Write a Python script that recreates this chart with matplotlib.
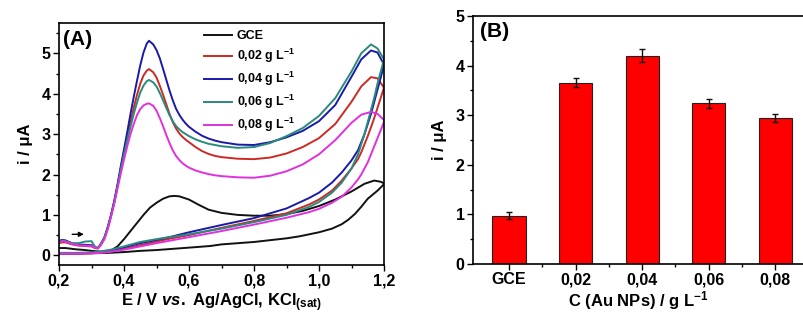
import matplotlib
matplotlib.use("Agg")
import matplotlib.pyplot as plt
from matplotlib.ticker import MultipleLocator, FixedLocator, FuncFormatter

plt.rcParams['font.family'] = ['Liberation Sans', 'DejaVu Sans']
plt.rcParams['font.weight'] = 'bold'
plt.rcParams['mathtext.fontset'] = 'custom'
plt.rcParams['mathtext.rm'] = 'Liberation Sans:bold'
plt.rcParams['mathtext.bf'] = 'Liberation Sans:bold'
plt.rcParams['mathtext.it'] = 'Liberation Sans:italic:bold'

# ---------------- Panel A data (cyclic voltammograms) ----------------
E_fwd = [0.20, 0.21, 0.22, 0.24, 0.26, 0.28, 0.30, 0.31, 0.32, 0.33, 0.34, 0.35, 0.36, 0.37,
         0.38, 0.39, 0.40, 0.41, 0.42, 0.43, 0.44, 0.45, 0.46, 0.47, 0.477, 0.49, 0.50, 0.51,
         0.52, 0.53, 0.54, 0.55, 0.56, 0.57, 0.58, 0.59, 0.60, 0.62, 0.64, 0.66, 0.68, 0.70,
         0.75, 0.80, 0.85, 0.90, 0.95, 1.00, 1.05, 1.10, 1.13, 1.16, 1.18, 1.20]
E_rev = [1.20, 1.19, 1.18, 1.17, 1.16, 1.15, 1.14, 1.13, 1.12, 1.10, 1.07, 1.04, 1.00, 0.97,
         0.90, 0.80, 0.70, 0.60, 0.54, 0.50, 0.45, 0.40, 0.36, 0.33, 0.30, 0.25, 0.20]

i_002_fwd = [0.30, 0.32, 0.32, 0.27, 0.24, 0.23, 0.22, 0.18, 0.17, 0.28, 0.43, 0.68, 0.98, 1.32,
             1.72, 2.15, 2.55, 2.93, 3.30, 3.65, 3.97, 4.25, 4.45, 4.57, 4.61, 4.53, 4.40, 4.20,
             3.98, 3.74, 3.50, 3.30, 3.14, 3.02, 2.93, 2.86, 2.80, 2.68, 2.58, 2.51, 2.46, 2.43,
             2.39, 2.38, 2.42, 2.52, 2.68, 2.90, 3.25, 3.80, 4.18, 4.41, 4.38, 4.15]
i_004_fwd = [0.36, 0.38, 0.37, 0.30, 0.27, 0.26, 0.25, 0.20, 0.18, 0.30, 0.45, 0.70, 1.00, 1.35,
             1.75, 2.20, 2.62, 3.05, 3.50, 3.92, 4.32, 4.70, 5.02, 5.24, 5.31, 5.22, 5.08, 4.88,
             4.62, 4.35, 4.08, 3.84, 3.63, 3.48, 3.36, 3.26, 3.18, 3.06, 2.96, 2.89, 2.84, 2.80,
             2.74, 2.73, 2.80, 2.92, 3.08, 3.32, 3.72, 4.42, 4.85, 5.07, 5.02, 4.72]
i_006_fwd = [0.33, 0.36, 0.35, 0.30, 0.30, 0.34, 0.35, 0.22, 0.18, 0.29, 0.44, 0.68, 0.97, 1.30,
             1.70, 2.12, 2.50, 2.85, 3.18, 3.50, 3.78, 4.03, 4.20, 4.31, 4.34, 4.28, 4.18, 4.02,
             3.84, 3.65, 3.47, 3.32, 3.20, 3.12, 3.05, 3.00, 2.95, 2.87, 2.81, 2.76, 2.73, 2.70,
             2.66, 2.68, 2.78, 2.95, 3.15, 3.45, 3.89, 4.55, 5.00, 5.22, 5.12, 4.85]
i_008_fwd = [0.32, 0.35, 0.34, 0.28, 0.25, 0.24, 0.23, 0.19, 0.17, 0.27, 0.40, 0.64, 0.95, 1.28,
             1.65, 2.02, 2.37, 2.70, 3.00, 3.25, 3.47, 3.62, 3.71, 3.75, 3.76, 3.70, 3.58, 3.40,
             3.20, 2.98, 2.78, 2.60, 2.46, 2.36, 2.28, 2.22, 2.17, 2.10, 2.05, 2.01, 1.98, 1.96,
             1.93, 1.92, 1.97, 2.08, 2.25, 2.50, 2.85, 3.28, 3.48, 3.55, 3.50, 3.35]

i_002_rev = [4.15, 3.90, 3.65, 3.40, 3.17, 2.95, 2.75, 2.55, 2.38, 2.15, 1.85, 1.60, 1.38, 1.26,
             1.04, 0.85, 0.68, 0.50, 0.41, 0.34, 0.25, 0.16, 0.10, 0.07, 0.05, 0.04, 0.04]
i_004_rev = [4.72, 4.40, 4.10, 3.80, 3.50, 3.25, 3.00, 2.80, 2.60, 2.35, 2.05, 1.80, 1.55, 1.42,
             1.16, 0.92, 0.75, 0.57, 0.45, 0.38, 0.30, 0.20, 0.12, 0.08, 0.06, 0.05, 0.05]
i_006_rev = [4.85, 4.55, 4.25, 3.90, 3.60, 3.30, 3.00, 2.75, 2.50, 2.15, 1.80, 1.55, 1.32, 1.20,
             1.00, 0.82, 0.66, 0.52, 0.45, 0.40, 0.33, 0.22, 0.14, 0.10, 0.07, 0.06, 0.06]
i_008_rev = [3.30, 3.10, 2.90, 2.70, 2.50, 2.30, 2.15, 2.00, 1.88, 1.68, 1.45, 1.30, 1.15, 1.07,
             0.93, 0.76, 0.60, 0.45, 0.36, 0.30, 0.22, 0.14, 0.09, 0.06, 0.05, 0.04, 0.04]

E_gce_fwd = [0.20, 0.22, 0.25, 0.28, 0.30, 0.33, 0.36, 0.38, 0.40, 0.42, 0.44, 0.46, 0.48, 0.50,
             0.52, 0.54, 0.555, 0.57, 0.60, 0.63, 0.66, 0.70, 0.75, 0.80, 0.85, 0.90, 0.95, 1.00,
             1.05, 1.10, 1.14, 1.17, 1.19, 1.20]
i_gce_fwd = [0.18, 0.18, 0.15, 0.13, 0.11, 0.09, 0.12, 0.22, 0.40, 0.60, 0.80, 1.00, 1.18, 1.30,
             1.40, 1.46, 1.47, 1.46, 1.38, 1.25, 1.13, 1.05, 1.00, 0.98, 0.98, 1.02, 1.10, 1.22,
             1.38, 1.58, 1.77, 1.85, 1.82, 1.78]
E_gce_rev = [1.20, 1.18, 1.15, 1.13, 1.11, 1.09, 1.07, 1.04, 1.00, 0.94, 0.90, 0.80, 0.70, 0.665,
             0.60, 0.55, 0.50, 0.45, 0.40, 0.35, 0.30, 0.25, 0.20]
i_gce_rev = [1.76, 1.60, 1.40, 1.20, 1.02, 0.88, 0.77, 0.66, 0.57, 0.47, 0.42, 0.33, 0.27, 0.23,
             0.19, 0.16, 0.13, 0.11, 0.08, 0.06, 0.05, 0.04, 0.04]

legend_labels = ["GCE", "0,02 g L$^{-1}$", "0,04 g L$^{-1}$", "0,06 g L$^{-1}$", "0,08 g L$^{-1}$"]
line_colors = ["#111111", "#cc2a24", "#1a1aa8", "#2a8a7c", "#e030e0"]

# ---------------- Panel B data (bar chart) ----------------
bar_labels = ["GCE", "0,02", "0,04", "0,06", "0,08"]
bar_values = [0.97, 3.65, 4.20, 3.24, 2.95]
bar_errors = [0.07, 0.09, 0.13, 0.09, 0.08]

fig = plt.figure(figsize=(8.04, 3.2), dpi=100)
axA = fig.add_axes([59 / 804, 1 - 265 / 320, 325 / 804, 242 / 320])
axB = fig.add_axes([473 / 804, 1 - 264 / 320, 331 / 804, 248 / 320])

series = [
    (E_gce_fwd + E_gce_rev, i_gce_fwd + i_gce_rev),
    (E_fwd + E_rev, i_002_fwd + i_002_rev),
    (E_fwd + E_rev, i_004_fwd + i_004_rev),
    (E_fwd + E_rev, i_006_fwd + i_006_rev),
    (E_fwd + E_rev, i_008_fwd + i_008_rev),
]
for (x, y), lab, col in zip(series, legend_labels, line_colors):
    axA.plot(x, y, color=col, lw=1.4, label=lab, solid_joinstyle='round')

axA.set_xlim(0.2, 1.2)
axA.set_ylim(-0.24, 5.75)
axA.xaxis.set_major_locator(MultipleLocator(0.2))
axA.xaxis.set_minor_locator(MultipleLocator(0.1))
axA.yaxis.set_major_locator(MultipleLocator(1))
axA.yaxis.set_minor_locator(MultipleLocator(0.5))
axA.xaxis.set_major_formatter(FuncFormatter(lambda v, p: f"{v:.1f}".replace('.', ',')))
axA.yaxis.set_major_formatter(FuncFormatter(lambda v, p: f"{v:.0f}"))
axA.tick_params(which='major', direction='out', length=4, width=1, labelsize=11.5, pad=2)
axA.tick_params(which='minor', direction='out', length=2.5, width=1)
for s in axA.spines.values():
    s.set_linewidth(1.2)
axA.set_xlabel(r"E / V $\mathit{vs.}$ Ag/AgCl, KCl$_{\mathbf{(sat)}}$", fontsize=12, fontweight='bold', labelpad=2)
axA.set_ylabel("i / μA", fontsize=12, fontweight='bold', labelpad=6)
axA.text(0.012, 0.97, "(A)", transform=axA.transAxes, fontsize=15, fontweight='bold',
         ha='left', va='top')
axA.annotate('', xy=(0.285, 0.52), xytext=(0.232, 0.52),
             arrowprops=dict(arrowstyle='-|>', color='k', lw=1.0, mutation_scale=7))
leg = axA.legend(loc='upper left', bbox_to_anchor=(0.435, 0.985), frameon=False, fontsize=9,
                 handlelength=2.2, handletextpad=0.4, labelspacing=0.38, borderpad=0.3,
                 borderaxespad=0.0)
for t in leg.get_texts():
    t.set_fontweight('bold')

# Panel B
pos = list(range(len(bar_labels)))
axB.bar(pos, bar_values, width=0.5, color='#ff0000', edgecolor='#222222', linewidth=0.8)
axB.errorbar(pos, bar_values, yerr=bar_errors, fmt='none', ecolor='#111111', elinewidth=1.0,
             capsize=2.5, capthick=1.0)
axB.set_xlim(-0.54, 4.43)
axB.set_ylim(0, 5)
axB.set_xticks(pos)
axB.set_xticklabels(bar_labels)
axB.xaxis.set_minor_locator(FixedLocator([0.5, 1.5, 2.5, 3.5]))
axB.yaxis.set_major_locator(MultipleLocator(1))
axB.yaxis.set_minor_locator(MultipleLocator(0.5))
axB.tick_params(which='major', direction='out', length=4, width=1, labelsize=11.5, pad=2)
axB.tick_params(which='minor', direction='out', length=2.5, width=1)
axB.spines['right'].set_visible(False)
for s in ['left', 'bottom', 'top']:
    axB.spines[s].set_linewidth(1.2)
axB.set_xlabel("C (Au NPs) / g L$^{-1}$", fontsize=12, fontweight='bold', labelpad=1)
axB.set_ylabel("i / μA", fontsize=12, fontweight='bold', labelpad=6)
axB.text(0.02, 0.975, "(B)", transform=axB.transAxes, fontsize=15, fontweight='bold',
         ha='left', va='top')

fig.savefig("out.png", dpi=100)
